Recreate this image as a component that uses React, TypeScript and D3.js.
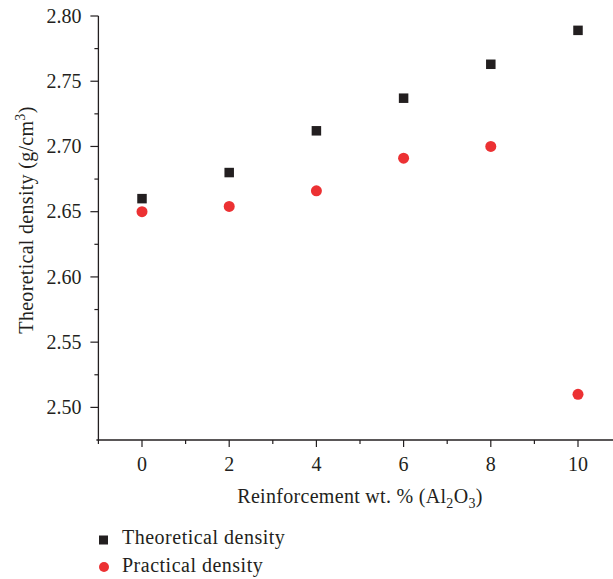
import React, { useEffect, useRef } from "react";
import * as d3 from "d3";

const xValues = [0, 2, 4, 6, 8, 10];
const theoretical = [2.66, 2.68, 2.712, 2.737, 2.763, 2.789];
const practical = [2.65, 2.654, 2.666, 2.691, 2.7, 2.51];
const yTicks = [2.5, 2.55, 2.6, 2.65, 2.7, 2.75, 2.8];
const yMinorTicks = [2.525, 2.575, 2.625, 2.675, 2.725, 2.775];
const xTicks = [0, 2, 4, 6, 8, 10];
const xMinorTicks = [-1, 1, 3, 5, 7, 9];

const W = 613;
const H = 579;
const FONT = "'Liberation Serif', 'DejaVu Serif', serif";
const INK = "#231f20";

export default function App() {
  const ref = useRef<SVGSVGElement>(null);
  useEffect(() => {
    const svg = d3.select(ref.current);
    svg.selectAll("*").remove();
    const left = 98.4, right = 613, top = 16, bottom = 440;
    const x = d3.scaleLinear().domain([-1, 10]).range([left, 578]);
    const y = d3.scaleLinear().domain([2.475, 2.8]).range([bottom, top]);

    const g = svg.append("g");
    g.append("line").attr("x1", left).attr("x2", left).attr("y1", top).attr("y2", bottom).attr("stroke", INK).attr("stroke-width", 1.3);
    g.append("line").attr("x1", left - 2).attr("x2", right).attr("y1", bottom).attr("y2", bottom).attr("stroke", INK).attr("stroke-width", 1.3);

    yTicks.forEach((t) => {
      g.append("line").attr("x1", left - 8).attr("x2", left).attr("y1", y(t)).attr("y2", y(t)).attr("stroke", INK).attr("stroke-width", 1.2);
      g.append("text").attr("x", left - 17).attr("y", y(t)).attr("dy", "0.33em").attr("text-anchor", "end")
        .attr("font-family", FONT).attr("font-size", 20).attr("fill", INK).text(d3.format(".2f")(t));
    });
    yMinorTicks.forEach((t) => {
      g.append("line").attr("x1", left - 4).attr("x2", left).attr("y1", y(t)).attr("y2", y(t)).attr("stroke", INK).attr("stroke-width", 1.2);
    });
    xTicks.forEach((t) => {
      g.append("line").attr("x1", x(t)).attr("x2", x(t)).attr("y1", bottom).attr("y2", bottom + 7).attr("stroke", INK).attr("stroke-width", 1.2);
      g.append("text").attr("x", x(t)).attr("y", 471).attr("text-anchor", "middle")
        .attr("font-family", FONT).attr("font-size", 20).attr("fill", INK).text(String(t));
    });
    xMinorTicks.forEach((t) => {
      g.append("line").attr("x1", x(t)).attr("x2", x(t)).attr("y1", bottom).attr("y2", bottom + 4).attr("stroke", INK).attr("stroke-width", 1.2);
    });

    const xt = g.append("text").attr("x", 360).attr("y", 503).attr("text-anchor", "middle")
      .attr("font-family", FONT).attr("font-size", 20).attr("letter-spacing", 0.3).attr("fill", INK);
    xt.append("tspan").text("Reinforcement wt. % (Al");
    xt.append("tspan").attr("font-size", 14).attr("dy", 5).text("2");
    xt.append("tspan").attr("dy", -5).text("O");
    xt.append("tspan").attr("font-size", 14).attr("dy", 5).text("3");
    xt.append("tspan").attr("dy", -5).text(")");

    const yt = g.append("text").attr("transform", `translate(33,220) rotate(-90)`).attr("text-anchor", "middle")
      .attr("font-family", FONT).attr("font-size", 20).attr("letter-spacing", 0.3).attr("fill", INK);
    yt.append("tspan").text("Theoretical density (g/cm");
    yt.append("tspan").attr("font-size", 14).attr("dy", -8).text("3");
    yt.append("tspan").attr("dy", 8).text(")");

    const s = 9.5;
    g.selectAll("rect.t").data(xValues).enter().append("rect")
      .attr("x", (d) => x(d) - s / 2).attr("y", (d, i) => y(theoretical[i]) - s / 2)
      .attr("width", s).attr("height", s).attr("fill", INK);
    g.selectAll("circle.p").data(xValues).enter().append("circle")
      .attr("cx", (d) => x(d)).attr("cy", (d, i) => y(practical[i])).attr("r", 5.5).attr("fill", "#ec3133");

    g.append("rect").attr("x", 99).attr("y", 535.5).attr("width", 9).attr("height", 9).attr("fill", INK);
    g.append("text").attr("x", 122).attr("y", 544).attr("font-family", FONT).attr("font-size", 20).attr("letter-spacing", 0.5).attr("fill", INK).text("Theoretical density");
    g.append("circle").attr("cx", 104).attr("cy", 567).attr("r", 5).attr("fill", "#ec3133");
    g.append("text").attr("x", 122).attr("y", 572).attr("font-family", FONT).attr("font-size", 20).attr("letter-spacing", 0.5).attr("fill", INK).text("Practical density");
  }, []);
  return <svg ref={ref} width={W} height={H} style={{ position: "absolute", left: 0, top: 0, background: "#fff" }} />;
}
